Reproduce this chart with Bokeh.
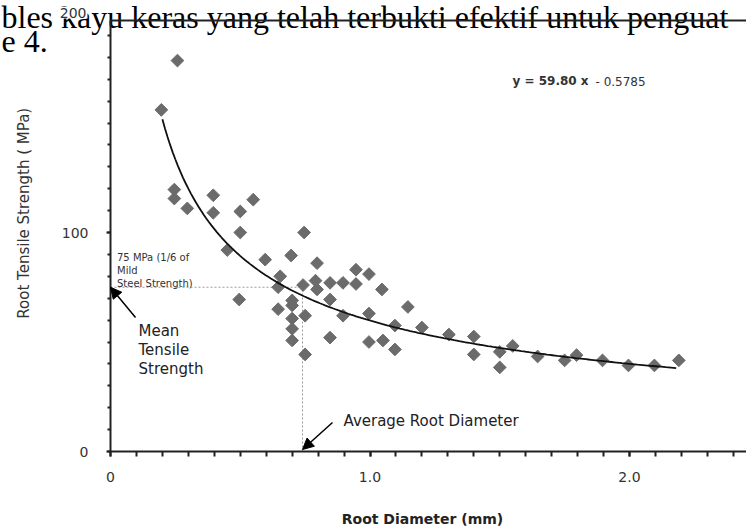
import numpy as np
from bokeh.plotting import figure
from bokeh.models import (Range1d, SingleIntervalTicker, Label, Arrow, NormalHead,
                          ColumnDataSource, LinearAxis)
from bokeh.embed import file_html
from bokeh.resources import INLINE

# ---- data ----
diameter = [0.258, 0.196, 0.246, 0.246, 0.296, 0.396, 0.396, 0.50, 0.55, 0.50,
            0.45, 0.746, 0.696, 0.596, 0.796, 0.654, 0.646, 0.742, 0.79, 0.846,
            0.896, 0.946, 0.946, 0.996, 1.046, 0.796, 0.496, 0.70, 0.70, 0.846,
            0.646, 0.75, 0.70, 0.70, 0.70, 0.75, 0.896, 0.846, 0.996, 0.996,
            1.05, 1.096, 1.096, 1.146, 1.20, 1.304, 1.40, 1.40, 1.50, 1.50,
            1.55, 1.646, 1.75, 1.796, 1.896, 1.996, 2.096, 2.19]
strength = [178.5, 156, 119.6, 115.5, 111, 117, 109, 109.6, 115, 100,
            92, 100, 89.5, 87.6, 86, 80, 75, 76, 78, 77,
            77, 76.5, 83, 81, 74, 74, 69.4, 69, 66.7, 69.4,
            65, 62, 60.7, 56, 50.7, 44.3, 62, 52, 63, 50,
            50.7, 57.5, 46.6, 66, 56.6, 53.4, 52.5, 44.3, 45.5, 38.4,
            48.2, 43.4, 41.6, 44, 41.6, 39.3, 39.3, 41.6]

fit_a = 59.80
fit_b = -0.5785
fit_x_min = 0.2
fit_x_max = 2.18

mean_strength = 75
avg_diameter = 0.74

x_tick_labels = {0: "0", 1: "1.0", 2: "2.0"}
y_top = 196.8

FONT = "DejaVu Sans"
TXT = "#333333"

W, H = 746, 527
FL, FB = 110, 451          # axis origin in page pixels
PX_X, PX_Y = 259.5, 2.19   # pixels per data unit
x0, x1 = -FL / PX_X, (W - FL) / PX_X
y0, y1 = -(H - FB) / PX_Y, FB / PX_Y

def px(xp):
    return (xp - FL) / PX_X

def py(yp):
    return (FB - yp) / PX_Y

p = figure(width=W, height=H, output_backend="svg", toolbar_location=None,
           x_range=Range1d(x0, x1), y_range=Range1d(y0, y1),
           min_border=0, min_border_left=0, min_border_right=0,
           min_border_top=0, min_border_bottom=0,
           x_axis_location=None, y_axis_location=None)
p.outline_line_color = None
p.xgrid.visible = False
p.ygrid.visible = False
p.background_fill_color = "white"
p.border_fill_color = "white"

# surrounding document text from the scanned page (behind the chart)
p.add_layout(Label(x=px(1), y=py(16.5), level="underlay",
                   text="bles kayu keras yang telah terbukti efektif untuk penguat",
                   text_font="Liberation Serif", text_font_size="32px", text_color="black",
                   text_baseline="alphabetic"))
p.add_layout(Label(x=px(1), y=py(40.5), level="underlay", text="e 4.",
                   text_font="Liberation Serif", text_font_size="32px", text_color="black",
                   text_baseline="alphabetic"))

xaxis = LinearAxis(fixed_location=0, bounds=(0, x1),
                   ticker=SingleIntervalTicker(interval=1, num_minor_ticks=10))
yaxis = LinearAxis(fixed_location=0, bounds=(0, y_top),
                   ticker=SingleIntervalTicker(interval=100, num_minor_ticks=10))
topaxis = LinearAxis(fixed_location=y_top, bounds=(0, x1))

for ax in (xaxis, yaxis, topaxis):
    ax.axis_line_width = 2
    ax.axis_line_color = "#222222"
    ax.major_tick_line_color = "#222222"
    ax.minor_tick_line_color = "#222222"
    ax.major_tick_line_width = 2
    ax.minor_tick_line_width = 2
    ax.major_tick_in = 0
    ax.minor_tick_in = 0
    ax.major_label_text_font = FONT
    ax.major_label_text_font_size = "14px"
    ax.major_label_text_color = TXT

xaxis.major_label_overrides = x_tick_labels
xaxis.major_tick_out = 5
xaxis.minor_tick_out = 5
xaxis.major_label_standoff = 15

yaxis.major_tick_out = 4
yaxis.minor_tick_out = 3
yaxis.major_label_standoff = 18

topaxis.major_tick_line_color = None
topaxis.minor_tick_line_color = None
topaxis.major_label_text_color = None

p.add_layout(xaxis, "below")
p.add_layout(yaxis, "left")
p.add_layout(topaxis, "above")

# dotted guides
p.segment(x0=[0, avg_diameter], y0=[mean_strength, 0],
          x1=[avg_diameter, avg_diameter], y1=[mean_strength, mean_strength],
          line_color="#9a9a9a", line_dash="2 2", line_width=1)

# points
src = ColumnDataSource(dict(x=diameter, y=strength))
p.scatter("x", "y", source=src, marker="square", angle=np.pi / 4, size=9,
          fill_color="#6b6b6b", line_color="#6b6b6b")

# fitted power curve from the printed equation
fx = np.linspace(fit_x_min, fit_x_max, 200)
fy = fit_a * fx ** fit_b
p.line(fx, fy, line_color="#111111", line_width=1.8)

# annotations
p.add_layout(Label(x=px(512), y=py(80), text="y = 59.80 x", text_font=FONT,
                   text_font_size="12px", text_font_style="bold", text_color=TXT,
                   text_baseline="middle"))
p.add_layout(Label(x=px(595), y=py(81), text="- 0.5785", text_font=FONT,
                   text_font_size="12px", text_color=TXT, text_baseline="middle"))

for txt, yp in zip(["75 MPa (1/6 of", "Mild", "Steel Strength)"], [257, 270, 283]):
    p.add_layout(Label(x=px(116.5), y=py(yp), text=txt, text_font=FONT,
                       text_font_size="10px", text_color=TXT, text_baseline="middle"))

for txt, yp in zip(["Mean", "Tensile", "Strength"], [330, 349, 368]):
    p.add_layout(Label(x=px(138), y=py(yp), text=txt, text_font=FONT,
                       text_font_size="15px", text_color="#222222", text_baseline="middle"))

p.add_layout(Arrow(end=NormalHead(size=11, fill_color="black", line_color="black"),
                   x_start=px(135), y_start=py(317), x_end=0.0, y_end=mean_strength,
                   line_color="black", line_width=1.5))

p.add_layout(Label(x=px(343), y=py(420), text="Average Root Diameter", text_font=FONT,
                   text_font_size="15px", text_color="#222222", text_baseline="middle"))
p.add_layout(Arrow(end=NormalHead(size=11, fill_color="black", line_color="black"),
                   x_start=px(332), y_start=py(422), x_end=avg_diameter, y_end=py(449),
                   line_color="black", line_width=1.5))

# axis titles and the "200" tick label
p.add_layout(Label(x=px(23), y=py(208), text="Root Tensile Strength (   MPa)",
                   angle=np.pi / 2, text_font=FONT, text_font_size="15px",
                   text_color=TXT, text_align="center", text_baseline="middle"))
p.add_layout(Label(x=px(422), y=py(526), text="Root Diameter (mm)", text_font=FONT,
                   text_font_size="14px", text_font_style="bold", text_color="#222222",
                   text_align="center", text_baseline="bottom"))
p.add_layout(Label(x=px(87), y=py(12), text="200", text_font=FONT,
                   text_font_size="14px", text_color=TXT,
                   background_fill_color="white", padding=1,
                   text_align="right", text_baseline="middle"))

open("out.html", "w").write(file_html(p, INLINE))
